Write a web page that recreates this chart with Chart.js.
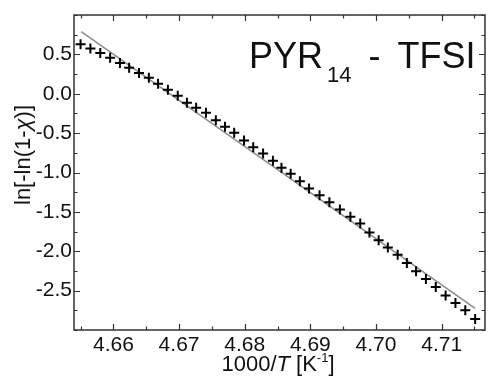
<!DOCTYPE html>
<html>
<head>
<meta charset="utf-8">
<script src="https://cdn.jsdelivr.net/npm/chart.js@4/dist/chart.umd.min.js"></script>
<style>
    html, body { margin: 0; padding: 0; background: #fff; }
    #wrap { position: relative; width: 492px; height: 376px; }
    .lbl { position: absolute; white-space: nowrap; font-family: "Liberation Sans", Arial, sans-serif; color: #111; }
    #ttl { left: 249px; top: 38px; font-size: 36px; line-height: 36px; }
    #ttl .sub { font-size: 22px; position: relative; top: 14px; margin-left: 4px; }
    #ttl .dash { margin-left: 17px; }
    #ttl .name { margin-left: 17px; }
    #xt { left: 278px; top: 353px; font-size: 22px; line-height: 22px; transform: translateX(-50%); }
    #xt sup { font-size: 13px; vertical-align: 9px; line-height: 0; }
    #yt { left: 23px; top: 155px; font-size: 22px; line-height: 22px; transform: translate(-50%, -50%) rotate(-90deg); }
</style>
</head>
<body>
<div id="wrap">
    <canvas id="chart" width="492" height="376"></canvas>
    <div class="lbl" id="ttl">PYR<span class="sub">14</span><span class="dash">-</span><span class="name">TFSI</span></div>
    <div class="lbl" id="xt">1000/<i>T</i> [K<sup>-1</sup>]</div>
    <div class="lbl" id="yt">ln[-ln(1-<i>χ</i>)]</div>
</div>
<script>
// ==================== Data ====================

const X_VALUES = [
    4.6550, 4.6565, 4.6580, 4.6595, 4.6610, 4.6624, 4.6639, 4.6654, 4.6668, 4.6683,
    4.6698, 4.6712, 4.6726, 4.6741, 4.6756, 4.6770, 4.6784, 4.6799, 4.6813, 4.6828,
    4.6843, 4.6856, 4.6870, 4.6884, 4.6898, 4.6914, 4.6929, 4.6945, 4.6961, 4.6976,
    4.6990, 4.7004, 4.7018, 4.7033, 4.7047, 4.7061, 4.7076, 4.7091, 4.7106, 4.7121,
    4.7136, 4.7151
];
const Y_VALUES = [
    0.627, 0.576, 0.517, 0.458, 0.389, 0.331, 0.262, 0.204, 0.128, 0.051,
    -0.025, -0.114, -0.178, -0.241, -0.335, -0.419, -0.495, -0.593, -0.678, -0.758,
    -0.851, -0.940, -1.016, -1.111, -1.203, -1.288, -1.377, -1.470, -1.563, -1.648,
    -1.763, -1.861, -1.953, -2.046, -2.148, -2.255, -2.351, -2.453, -2.563, -2.656,
    -2.750, -2.860
];

// linear fit, end points
const FIT_X = [4.6551, 4.7151];
const FIT_Y = [0.79, -2.725];

const X_TICKS = [4.66, 4.67, 4.68, 4.69, 4.70, 4.71];
const Y_TICKS = [0.5, 0.0, -0.5, -1.0, -1.5, -2.0, -2.5];
const X_MINOR = 0.005;
const Y_MINOR = 0.25;
const X_RANGE = [4.654, 4.7166];
const Y_RANGE = [-3.0, 1.0];

// ==================== Chart ====================

const FONT = { family: '"Liberation Sans", Arial, sans-serif', size: 21 };
const FRAME_COLOR = '#333';

// box frame with inward ticks on all four sides
const framePlugin = {
    id: 'frame',
    afterDraw(chart) {
        const { ctx, chartArea: a, scales } = chart;
        const xs = scales.x, ys = scales.y;
        ctx.save();
        ctx.strokeStyle = FRAME_COLOR;
        ctx.lineWidth = 1.5;
        ctx.strokeRect(a.left, a.top, a.right - a.left, a.bottom - a.top);
        ctx.lineWidth = 1.2;
        ctx.beginPath();
        const xStart = Math.ceil(xs.min / X_MINOR) * X_MINOR;
        for (let v = xStart; v <= xs.max + 1e-9; v += X_MINOR) {
            const px = Math.round(xs.getPixelForValue(v)) + 0.5;
            const major = X_TICKS.some(t => Math.abs(t - v) < 1e-6);
            const len = major ? 6 : 3.5;
            ctx.moveTo(px, a.bottom); ctx.lineTo(px, a.bottom - len);
            ctx.moveTo(px, a.top); ctx.lineTo(px, a.top + len);
        }
        const yStart = Math.ceil(ys.min / Y_MINOR) * Y_MINOR;
        for (let v = yStart; v <= ys.max + 1e-9; v += Y_MINOR) {
            const py = Math.round(ys.getPixelForValue(v)) + 0.5;
            const major = Y_TICKS.some(t => Math.abs(t - v) < 1e-6);
            const len = major ? 6 : 3.5;
            ctx.moveTo(a.left, py); ctx.lineTo(a.left + len, py);
            ctx.moveTo(a.right, py); ctx.lineTo(a.right - len, py);
        }
        ctx.stroke();
        ctx.restore();
    }
};

new Chart(document.getElementById('chart').getContext('2d'), {
    type: 'scatter',
    data: {
        datasets: [
            {
                data: X_VALUES.map((x, i) => ({ x, y: Y_VALUES[i] })),
                pointStyle: 'cross',
                pointRadius: 5,
                borderColor: '#000',
                borderWidth: 2,
                showLine: false
            },
            {
                type: 'line',
                data: FIT_X.map((x, i) => ({ x, y: FIT_Y[i] })),
                borderColor: '#8c8c8c',
                borderWidth: 1.5,
                pointRadius: 0,
                fill: false
            }
        ]
    },
    options: {
        responsive: false,
        animation: false,
        layout: { padding: { top: 15, right: 2, left: 0, bottom: 0 } },
        plugins: { legend: { display: false }, tooltip: { enabled: false } },
        scales: {
            x: {
                type: 'linear',
                min: X_RANGE[0], max: X_RANGE[1],
                afterBuildTicks: s => { s.ticks = X_TICKS.map(v => ({ value: v })); },
                afterFit: s => { s.height = 46; },
                grid: { display: false, drawTicks: false },
                border: { display: false },
                ticks: { font: FONT, color: '#111', padding: 3, maxRotation: 0, autoSkip: false, callback: v => v.toFixed(2) }
            },
            y: {
                type: 'linear',
                min: Y_RANGE[0], max: Y_RANGE[1],
                afterBuildTicks: s => { s.ticks = Y_TICKS.map(v => ({ value: v })); },
                afterFit: s => { s.width = 74; },
                grid: { display: false, drawTicks: false },
                border: { display: false },
                ticks: { font: FONT, color: '#111', padding: 2, autoSkip: false, callback: v => v.toFixed(1) }
            }
        }
    },
    plugins: [framePlugin]
});
</script>
</body>
</html>
